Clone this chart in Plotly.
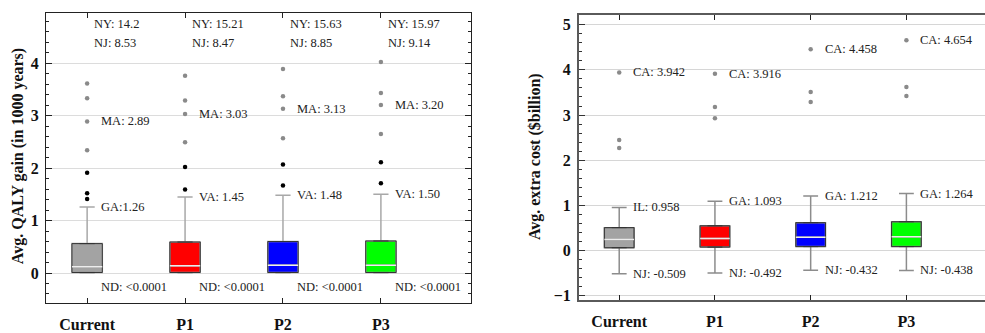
import plotly.graph_objects as go

categories = ["Current", "P1", "P2", "P3"]
box_colors = ["#a3a3a3", "#ff0000", "#0000ff", "#00ff00"]

# ---- Left panel: Avg. QALY gain (in 1000 years)
qaly_q1 = [0.01, 0.01, 0.01, 0.01]
qaly_median = [0.12, 0.14, 0.15, 0.15]
qaly_q3 = [0.56, 0.59, 0.60, 0.61]
qaly_lower = [0.0, 0.0, 0.0, 0.0]
qaly_upper = [1.26, 1.45, 1.48, 1.50]
qaly_near_outliers = [[1.41, 1.52, 1.91], [1.59, 2.02], [1.67, 2.07], [1.71, 2.11]]
qaly_far_outliers = [[2.34, 2.89, 3.33, 3.61], [2.49, 3.03, 3.29, 3.76],
                     [2.57, 3.13, 3.37, 3.89], [2.65, 3.20, 3.43, 4.02]]
qaly_ny = ["14.2", "15.21", "15.63", "15.97"]
qaly_nj = ["8.53", "8.47", "8.85", "9.14"]
qaly_ma = [2.89, 3.03, 3.13, 3.20]
qaly_upper_labels = ["GA:1.26", "VA: 1.45", "VA: 1.48", "VA: 1.50"]
qaly_lower_labels = ["ND: <0.0001"] * 4

# ---- Right panel: Avg. extra cost ($billion)
cost_q1 = [0.065, 0.08, 0.09, 0.09]
cost_median = [0.245, 0.27, 0.30, 0.31]
cost_q3 = [0.51, 0.55, 0.62, 0.64]
cost_lower = [-0.509, -0.492, -0.432, -0.438]
cost_upper = [0.958, 1.093, 1.212, 1.264]
cost_outliers = [[2.27, 2.45, 3.942], [2.93, 3.18, 3.916],
                 [3.29, 3.51, 4.458], [3.42, 3.62, 4.654]]
cost_ca = [3.942, 3.916, 4.458, 4.654]
cost_upper_names = ["IL", "GA", "GA", "GA"]
cost_lower_names = ["NJ", "NJ", "NJ", "NJ"]

FONT = "Liberation Serif"
fig = go.Figure()


def add_boxes(xa, ya, q1, med, q3, lo, hi, whisk_color, outline_color):
    for i, cat in enumerate(categories):
        common = dict(x=[cat], width=0.31, whiskerwidth=0.5, boxpoints=False,
                      xaxis=xa, yaxis=ya, showlegend=False, hoverinfo="skip")
        # whiskers + fill
        fig.add_trace(go.Box(q1=[q1[i]], median=[med[i]], q3=[q3[i]],
                             lowerfence=[lo[i]], upperfence=[hi[i]],
                             fillcolor=box_colors[i],
                             line=dict(color=whisk_color, width=1.5), **common))
        # dark outline
        fig.add_trace(go.Box(q1=[q1[i]], median=[med[i]], q3=[q3[i]],
                             lowerfence=[q1[i]], upperfence=[q3[i]],
                             fillcolor="rgba(0,0,0,0)",
                             line=dict(color=outline_color, width=1), **common))
        # white median
        fig.add_trace(go.Box(q1=[med[i]], median=[med[i]], q3=[med[i]],
                             lowerfence=[med[i]], upperfence=[med[i]],
                             fillcolor="rgba(0,0,0,0)",
                             line=dict(color="rgba(255,255,255,0.9)", width=1.5), **common))


add_boxes("x", "y", qaly_q1, qaly_median, qaly_q3, qaly_lower, qaly_upper, "#a8a8a8", "#333333")
add_boxes("x2", "y2", cost_q1, cost_median, cost_q3, cost_lower, cost_upper, "#8c8c8c", "#333333")

# outliers
for i, cat in enumerate(categories):
    fig.add_trace(go.Scatter(x=[cat] * len(qaly_far_outliers[i]), y=qaly_far_outliers[i],
                             mode="markers", marker=dict(color="#8a8a8a", size=4.5),
                             xaxis="x", yaxis="y", showlegend=False, hoverinfo="skip"))
    fig.add_trace(go.Scatter(x=[cat] * len(qaly_near_outliers[i]), y=qaly_near_outliers[i],
                             mode="markers", marker=dict(color="#000000", size=4.5),
                             xaxis="x", yaxis="y", showlegend=False, hoverinfo="skip"))
    fig.add_trace(go.Scatter(x=[cat] * len(cost_outliers[i]), y=cost_outliers[i],
                             mode="markers", marker=dict(color="#8a8a8a", size=4.5),
                             xaxis="x2", yaxis="y2", showlegend=False, hoverinfo="skip"))

annotations = []
afont = dict(family=FONT, size=12.5, color="#222")


def ann(xref, yref, x, y, text, xshift, yshift=0):
    annotations.append(dict(xref=xref, yref=yref, x=x, y=y, text=text, showarrow=False,
                            xanchor="left", yanchor="middle", xshift=xshift, yshift=yshift,
                            font=afont))


for i in range(len(categories)):
    ann("x", "y", i, 4.74, "NY: " + qaly_ny[i], 5)
    ann("x", "y", i, 4.38, "NJ: " + qaly_nj[i], 5)
    ann("x", "y", i, qaly_ma[i], "MA: %.2f" % qaly_ma[i], 12)
    ann("x", "y", i, qaly_upper[i], qaly_upper_labels[i], 12)
    ann("x", "y", i, qaly_lower[i], qaly_lower_labels[i], 12, -14)
    ann("x2", "y2", i, cost_ca[i], "CA: %.3f" % cost_ca[i], 12)
    ann("x2", "y2", i, cost_upper[i], "%s: %.3f" % (cost_upper_names[i], cost_upper[i]), 12)
    ann("x2", "y2", i, cost_lower[i], "%s: %.3f" % (cost_lower_names[i], cost_lower[i]), 12)

# axis titles
tfont = dict(family=FONT, size=16, color="#111")
annotations.append(dict(xref="paper", yref="paper", x=18 / 985, y=1 - 159 / 333,
                        text="<b>Avg. QALY gain (in 1000 years)</b>", textangle=-90,
                        showarrow=False, xanchor="center", yanchor="middle", font=tfont))
annotations.append(dict(xref="paper", yref="paper", x=535 / 985, y=1 - 160 / 333,
                        text="<b>Avg. extra cost ($billion)</b>", textangle=-90,
                        showarrow=False, xanchor="center", yanchor="middle", font=tfont))

tickfont = dict(family=FONT, size=16, color="#111", weight="bold")

xcommon = dict(type="category", categoryorder="array", categoryarray=categories,
               ticks="inside", ticklen=5, tickwidth=1, showgrid=False, zeroline=False,
               tickfont=tickfont, ticklabelstandoff=6, showline=True)

fig.update_layout(
    width=985, height=333,
    margin=dict(l=0, r=0, t=0, b=0),
    paper_bgcolor="white", plot_bgcolor="white",
    boxmode="overlay",
    showlegend=False,
    annotations=annotations,
    xaxis=dict(domain=[46 / 985, 471 / 985], range=[-0.42, 3.92], anchor="y",
               linecolor="#222", linewidth=1.3, tickcolor="#222", mirror="allticks", **xcommon),
    yaxis=dict(domain=[1 - 309 / 333, 1 - 13 / 333], range=[-0.58, 4.96], anchor="x",
               tickmode="linear", tick0=0, dtick=1, ticks="inside", ticklen=6, tickwidth=1,
               tickcolor="#222", showline=True, linecolor="#222", linewidth=1.3, mirror="allticks",
               showgrid=True, gridcolor="#dcdcdc", gridwidth=1, zeroline=False,
               tickfont=tickfont, ticklabelstandoff=3,
               minor=dict(dtick=0.2, tick0=0, ticks="inside", ticklen=3, tickcolor="#222",
                          showgrid=False)),
    xaxis2=dict(domain=[579 / 985, 1.0], range=[-0.42, 3.821], anchor="y2",
                linecolor="#5a5a5a", linewidth=2, tickcolor="#222", mirror="allticks", **xcommon),
    yaxis2=dict(domain=[1 - 305 / 333, 1 - 15 / 333], range=[-1.08, 5.22], anchor="x2",
                tickmode="linear", tick0=0, dtick=1, ticks="inside", ticklen=6, tickwidth=1,
                tickcolor="#333", showline=True, linecolor="#5a5a5a", linewidth=2, mirror=False,
                showgrid=True, gridcolor="#d6d6d6", gridwidth=1, zeroline=False,
                tickfont=tickfont, ticklabelstandoff=3,
                minor=dict(dtick=0.2, tick0=0, ticks="inside", ticklen=3, tickcolor="#333",
                           showgrid=False)),
)

fig.write_html("out.html")
